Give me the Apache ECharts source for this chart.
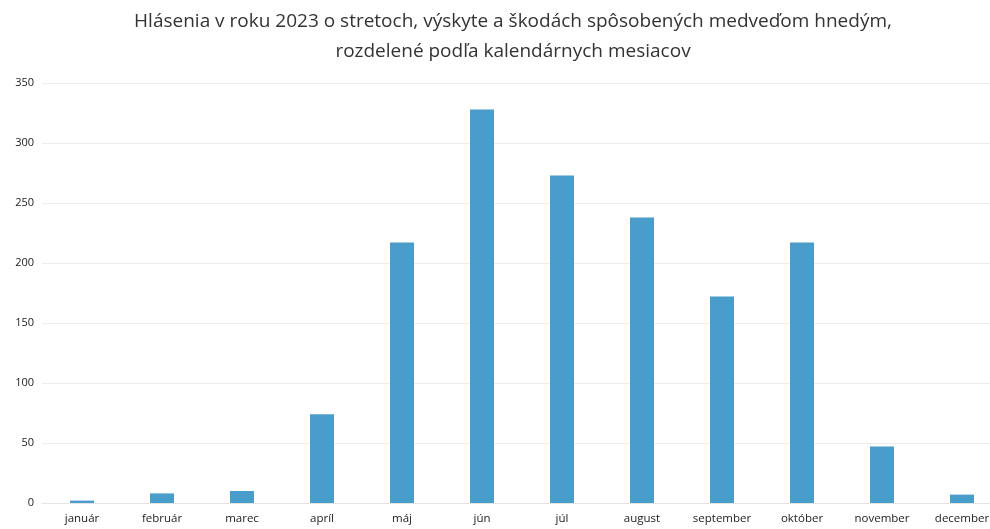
<!DOCTYPE html>
<html>
<head>
<meta charset="utf-8">
<script src="https://cdn.jsdelivr.net/npm/echarts@6/dist/echarts.min.js"></script>
<style>
  html, body { margin: 0; padding: 0; background: #fff; }
  #chart { width: 990px; height: 529px; }
</style>
</head>
<body>
<div id="chart"></div>
<script>
// monthly reports
const months = ['január', 'február', 'marec', 'apríl', 'máj', 'jún', 'júl', 'august', 'september', 'október', 'november', 'december']
const reports = [2, 8, 10, 74, 217, 328, 273, 238, 172, 217, 47, 7]
const titleText = 'Hlásenia v roku 2023 o stretoch, výskyte a škodách spôsobených medveďom hnedým,\nrozdelené podľa kalendárnych mesiacov'

const chart = echarts.init(document.getElementById('chart'))

chart.setOption({
  animation: false,
  title: {
    text: titleText,
    left: 508, // title sits a little right of centre
    top: 2,
    textAlign: 'center',
    textStyle: {
      fontFamily: 'Open Sans',
      fontSize: 19,
      fontWeight: 'normal',
      color: '#333',
      lineHeight: 30
    }
  },
  grid: {
    left: 42,
    width: 960,
    top: 83,
    bottom: 26,
    outerBoundsMode: 'none',
    containLabel: false
  },
  xAxis: {
    type: 'category',
    data: months,
    axisTick: { show: false },
    axisLine: { lineStyle: { color: '#e4e4e4' } },
    axisLabel: {
      color: '#222',
      fontFamily: 'Open Sans',
      fontSize: 11.5,
      margin: 10,
      interval: 0
    }
  },
  yAxis: {
    type: 'value',
    min: 0,
    max: 350,
    interval: 50,
    axisLine: { show: false },
    axisTick: { show: false },
    splitLine: { lineStyle: { color: '#ececec' } },
    axisLabel: {
      color: '#222',
      fontFamily: 'Open Sans',
      fontSize: 11,
      margin: 8
    }
  },
  series: [{
    type: 'bar',
    data: reports,
    barWidth: 24,
    itemStyle: { color: '#4a9cca' }
  }]
})
</script>
</body>
</html>
